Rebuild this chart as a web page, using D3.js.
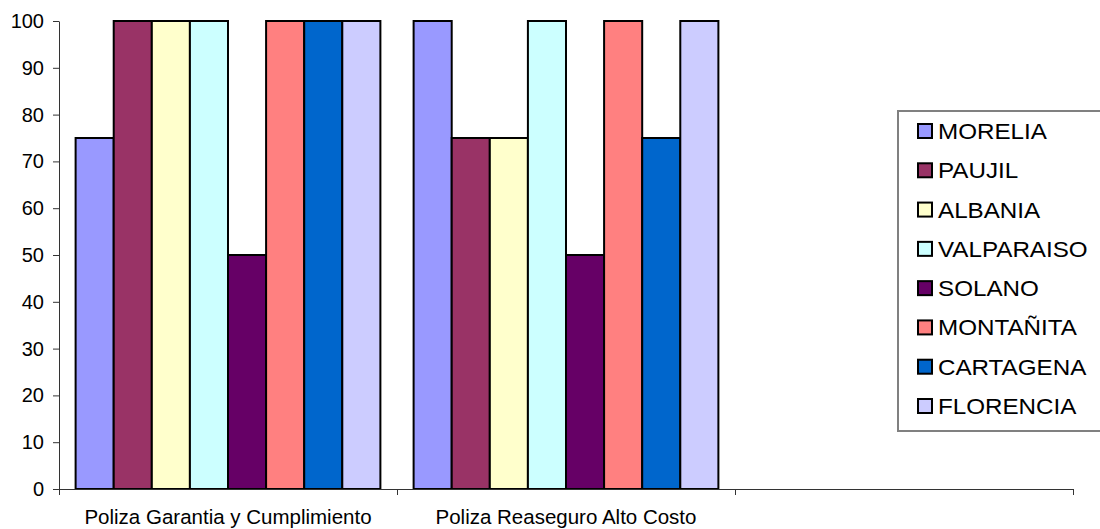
<!DOCTYPE html>
<html>
<head>
<meta charset="utf-8">
<script src="https://cdn.jsdelivr.net/npm/d3@7"></script>
<style>
  html, body { margin: 0; padding: 0; background: #fff; }
  svg { display: block; }
  text { font-family: "Liberation Sans", Arial, sans-serif; fill: #000; }
</style>
</head>
<body>
<svg id="chart" width="1100" height="529"></svg>
<script>
// Categories on the x axis (the third slot is an empty category)
const categories = ["Poliza Garantia y Cumplimiento", "Poliza Reaseguro Alto Costo", ""];
// Municipalities (series)
const seriesNames = ["MORELIA", "PAUJIL", "ALBANIA", "VALPARAISO", "SOLANO", "MONTAÑITA", "CARTAGENA", "FLORENCIA"];
const seriesColors = ["#9999FF", "#993366", "#FFFFCC", "#CCFFFF", "#660066", "#FF8080", "#0066CC", "#CCCCFF"];
// Values per series, one entry per category
const garantiaValues = [75, 100, 100, 100, 50, 100, 100, 100];
const reaseguroValues = [100, 75, 75, 100, 50, 100, 75, 100];
const yTicks = [0, 10, 20, 30, 40, 50, 60, 70, 80, 90, 100];

const valuesByCategory = [garantiaValues, reaseguroValues, []];

const svg = d3.select("#chart");
const plot = { left: 59, right: 1073, top: 21, bottom: 489 };

const x0 = d3.scaleBand().domain(categories.map((c, i) => i)).range([plot.left, plot.right]).padding(0);
const x1 = d3.scaleBand().domain(seriesNames).range([0, x0.bandwidth()]).paddingInner(0).paddingOuter(0.436);
const y = d3.scaleLinear().domain([0, 100]).range([plot.bottom, plot.top]);

// Bars
const groups = svg.append("g").selectAll("g")
  .data(valuesByCategory)
  .join("g")
  .attr("transform", (d, i) => `translate(${x0(i)},0)`);

groups.selectAll("rect")
  .data(d => d.map((v, j) => ({ name: seriesNames[j], value: v, color: seriesColors[j] })))
  .join("rect")
  .attr("x", d => x1(d.name))
  .attr("y", d => y(d.value))
  .attr("width", x1.bandwidth())
  .attr("height", d => y(0) - y(d.value))
  .attr("fill", d => d.color)
  .attr("stroke", "#000")
  .attr("stroke-width", 2);

// Y axis
const yAxis = svg.append("g")
  .attr("transform", `translate(${plot.left},0)`)
  .call(d3.axisLeft(y).tickValues(yTicks).tickSize(6).tickSizeOuter(0).tickPadding(9));
yAxis.select(".domain").attr("stroke", "#333");
yAxis.selectAll(".tick line").attr("stroke", "#333");
yAxis.selectAll("text").attr("font-size", 20).attr("font-family", "Liberation Sans, Arial, sans-serif").attr("fill", "#000");

// X axis line with ticks at the category boundaries
const xg = svg.append("g");
xg.append("line")
  .attr("x1", plot.left).attr("x2", plot.right)
  .attr("y1", y(0) + 0.5).attr("y2", y(0) + 0.5)
  .attr("stroke", "#333");
const boundaries = categories.map((c, i) => x0(i)).concat([x0(categories.length - 1) + x0.bandwidth()]);
xg.selectAll("line.bt")
  .data(boundaries)
  .join("line")
  .attr("class", "bt")
  .attr("x1", d => Math.round(d) + 0.5).attr("x2", d => Math.round(d) + 0.5)
  .attr("y1", y(0)).attr("y2", y(0) + 6)
  .attr("stroke", "#333");
xg.selectAll("text")
  .data(categories)
  .join("text")
  .attr("x", (d, i) => x0(i) + x0.bandwidth() / 2)
  .attr("y", 524)
  .attr("text-anchor", "middle")
  .attr("font-size", 20.5)
  .text(d => d);

// Legend
const legend = svg.append("g");
legend.append("rect")
  .attr("x", 898).attr("y", 111)
  .attr("width", 260).attr("height", 320)
  .attr("fill", "#fff")
  .attr("stroke", "#808080")
  .attr("stroke-width", 2);
const rowY = d3.scalePoint().domain(seriesNames).range([131, 406]);
const items = legend.selectAll("g.item")
  .data(seriesNames)
  .join("g")
  .attr("class", "item")
  .attr("transform", d => `translate(0,${rowY(d)})`);
items.append("rect")
  .attr("x", 918).attr("y", -7)
  .attr("width", 14).attr("height", 14)
  .attr("fill", (d, i) => seriesColors[i])
  .attr("stroke", "#000")
  .attr("stroke-width", 2);
items.append("text")
  .attr("transform", "translate(938,8) scale(1.1,1)")
  .attr("font-size", 22)
  .text(d => d);
</script>
</body>
</html>
